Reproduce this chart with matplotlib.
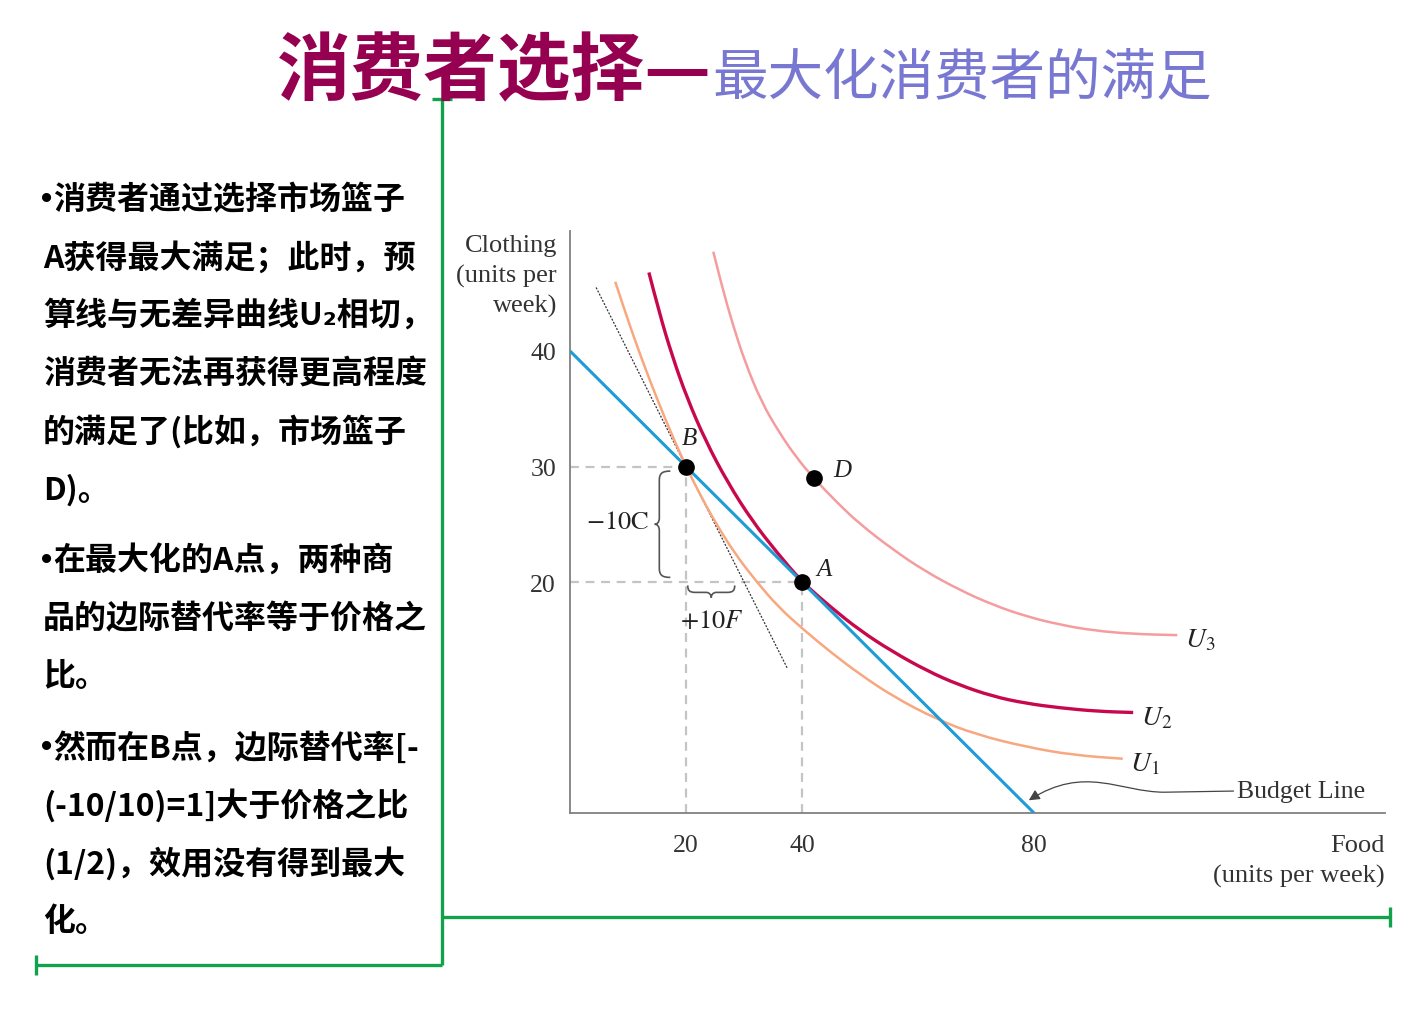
import matplotlib
matplotlib.use("Agg")
import matplotlib.pyplot as plt
from matplotlib.path import Path
from matplotlib.patches import PathPatch, FancyArrowPatch
from matplotlib.lines import Line2D

plt.rcParams['mathtext.fontset'] = 'stix'
CJK = ['Noto Sans CJK SC', 'DejaVu Sans']
SERIF = ['Liberation Serif', 'DejaVu Serif']

# ---------------- data ----------------
title_main = "消费者选择—"
title_sub = "最大化消费者的满足"
notes = [
    ["•消费者通过选择市场篮子", "A获得最大满足；此时，预", "算线与无差异曲线U₂相切，",
     "消费者无法再获得更高程度", "的满足了(比如，市场篮子", "D)。"],
    ["•在最大化的A点，两种商", "品的边际替代率等于价格之", "比。"],
    ["•然而在B点，边际替代率[-", "(-10/10)=1]大于价格之比", "(1/2)，效用没有得到最大", "化。"],
]

food_ticks = [20, 40, 80]
clothing_ticks = [20, 30, 40]
x_label = "Food\n(units per week)"
y_label = "Clothing\n(units per\nweek)"

budget_food = [0, 80]
budget_clothing = [40, 0]

u1_food = [7.8, 9.5, 11.3, 13.2, 15.3, 17.6, 20.0, 22.5, 25.0, 28.5, 32.2, 36.0, 40.2,
           45.0, 50.0, 56.0, 63.3, 70.0, 78.8, 87.0, 95.3]
u1_clothing = [46.0, 43.4, 40.8, 38.2, 35.5, 32.7, 30.0, 27.5, 25.2, 22.4, 20.0, 17.8, 15.9,
               13.9, 12.0, 10.0, 8.1, 6.8, 5.7, 5.0, 4.7]

u2_food = [13.6, 15.4, 17.6, 20.2, 23.4, 27.2, 31.4, 35.6, 40.0, 45.0, 50.0, 55.5, 61.6,
           67.0, 72.9, 78.5, 84.5, 91.0, 97.1]
u2_clothing = [46.8, 43.3, 39.6, 35.9, 32.2, 28.6, 25.3, 22.6, 20.0, 17.8, 15.8, 14.0, 12.3,
               11.1, 10.1, 9.5, 9.1, 8.8, 8.7]

u3_food = [24.7, 26.2, 28.0, 30.2, 33.0, 36.0, 39.0, 42.0, 46.0, 50.0, 55.7, 61.0, 67.2,
           73.0, 78.8, 84.5, 90.2, 97.0, 104.7]
u3_clothing = [48.6, 45.6, 42.4, 39.0, 35.6, 33.0, 30.8, 29.0, 26.9, 25.0, 22.8, 21.0, 19.3,
               18.0, 17.0, 16.3, 15.8, 15.5, 15.4]

curve_names = ["$\\mathit{U}_1$", "$\\mathit{U}_2$", "$\\mathit{U}_3$"]

point_names = ["B", "A", "D"]
point_food = [20, 40, 42]
point_clothing = [30, 20, 29]

tangent_food = [4.5, 37.5]
tangent_clothing = [45.5, 12.5]

delta_c_label = "$-10\\mathrm{C}$"
delta_f_label = "$+10\\mathit{F}$"
budget_label = "Budget Line"

# ---------------- figure ----------------
W, H = 1402, 1012
fig = plt.figure(figsize=(W / 100, H / 100), dpi=100)
fig.patch.set_facecolor('white')


def fx(px):
    return px / W


def fy(py):
    return 1 - py / H


# title
fig.text(fx(712), fy(94), title_main, ha='right', va='baseline', fontsize=53,
         fontweight='heavy', color='#960050', family=CJK)
fig.text(fx(712), fy(94), title_sub, ha='left', va='baseline', fontsize=40,
         fontweight='normal', color='#7878D2', family=CJK)

# left notes
y = 200
for pi, para in enumerate(notes):
    for line in para:
        x0 = 43
        if line.startswith("•"):
            fig.text(fx(41), fy(y), "•", ha='left', va='center', fontsize=23,
                     fontweight='bold', color='black', family=['Liberation Sans', 'DejaVu Sans'])
            line = line[1:]
            x0 = 53
        fig.text(fx(x0), fy(y), line, ha='left', va='center', fontsize=23,
                 fontweight='bold', color='black', family=CJK)
        y += 58
    y += 13

# green frame lines
green = '#12A24C'
glw = 2.4
for xs, ys in [([442, 442], [100, 966]), ([432, 452], [100, 100]),
               ([36, 442], [966, 966]), ([36, 36], [956, 976]),
               ([442, 1390], [918, 918]), ([1390, 1390], [908, 928])]:
    fig.add_artist(Line2D([fx(v) for v in xs], [fy(v) for v in ys], color=green,
                          lw=glw, solid_capstyle='butt'))

# ---------------- chart ----------------
ax = fig.add_axes([fx(570), fy(814), fx(1385) - fx(570), fy(232) - fy(814)])
ax.set_xlim(0, (1385 - 570) / 5.8)
ax.set_ylim(0, (814 - 232) / 11.55)
for s in ['top', 'right']:
    ax.spines[s].set_visible(False)
for s in ['left', 'bottom']:
    ax.spines[s].set_color('#808080')
    ax.spines[s].set_linewidth(1.3)
ax.set_xticks(food_ticks)
ax.set_yticks(clothing_ticks)
ax.tick_params(length=0)
ax.tick_params(axis='x', pad=15)
ax.tick_params(axis='y', pad=10)
for lab in ax.get_xticklabels() + ax.get_yticklabels():
    lab.set_family(SERIF)
    lab.set_fontsize(18.5)
    lab.set_color('#333333')

fig.text(fx(557), fy(235), y_label, ha='right', va='top', fontsize=19,
         family=SERIF, color='#333333', linespacing=1.42, multialignment='right')
fig.text(fx(1385), fy(835), x_label, ha='right', va='top', fontsize=19,
         family=SERIF, color='#333333', linespacing=1.42, multialignment='right')

# dashed guides
guide_kw = dict(color='#C4C4C4', lw=1.6, dashes=(4, 3), zorder=1)
for f, c in zip(point_food[:2], point_clothing[:2]):
    ax.plot([0, f], [c, c], **guide_kw)
    ax.plot([f, f], [0, c], **guide_kw)

# tangent at B
ax.plot(tangent_food, tangent_clothing, color='#333333', lw=0.9, dashes=(1.6, 1.2), zorder=2)


def smooth_curve(xs, ys, **kw):
    pts = list(zip(xs, ys))
    verts = [pts[0]]
    codes = [Path.MOVETO]
    for i in range(1, len(pts) - 1):
        mid = ((pts[i][0] + pts[i + 1][0]) / 2, (pts[i][1] + pts[i + 1][1]) / 2)
        verts += [pts[i], mid]
        codes += [Path.CURVE3, Path.CURVE3]
    verts.append(pts[-1])
    codes.append(Path.LINETO)
    ax.add_patch(PathPatch(Path(verts, codes), fill=False, capstyle='butt', **kw))


# indifference curves
smooth_curve(u1_food, u1_clothing, ec='#F8A77E', lw=1.8, zorder=3)
smooth_curve(u2_food, u2_clothing, ec='#C8084C', lw=2.4, zorder=3)
smooth_curve(u3_food, u3_clothing, ec='#F59C9E', lw=1.8, zorder=3)

# budget line
ax.plot(budget_food, budget_clothing, color='#1E9CD8', lw=2.2, zorder=4, solid_capstyle='butt')

# points
ax.plot(point_food, point_clothing, 'o', color='black', ms=11, zorder=6)
lab_off = {"B": (0.5, 2.5), "A": (3.8, 1.1), "D": (4.9, 0.7)}
for n, f, c in zip(point_names, point_food, point_clothing):
    dx, dy = lab_off[n]
    ax.text(f + dx, c + dy, n, ha='center', va='center', fontsize=18, family=SERIF,
            style='italic', color='#222222', zorder=7)

# curve labels
ends = [(u1_food[-1], u1_clothing[-1]), (u2_food[-1], u2_clothing[-1]),
        (u3_food[-1], u3_clothing[-1])]
for name, (ef, ec) in zip(curve_names, ends):
    ax.text(ef + 1.3, ec - 0.3, name, ha='left', va='center', fontsize=20, color='#222222')


# braces
def cubic_path(segments, start):
    verts = [start]
    codes = [Path.MOVETO]
    for seg in segments:
        if len(seg) == 1:
            verts.append(seg[0]); codes.append(Path.LINETO)
        else:
            verts.extend(seg); codes.extend([Path.CURVE4] * 3)
    return Path(verts, codes)


bf, bc = point_food[0], point_clothing[0]
af, ac = point_food[1], point_clothing[1]
# vertical brace (-10C)
x = bf - 4.6
cd, td, r = 1.9, 0.8, 0.8
y1, y0 = bc - 0.4, ac + 0.4
ym = (y0 + y1) / 2
vpath = cubic_path([
    [(x + cd * 0.3, y1), (x, y1 - r * 0.2), (x, y1 - r)],
    [(x, ym + 0.55)],
    [(x, ym + 0.15), (x - td * 0.5, ym), (x - td, ym)],
    [(x - td * 0.5, ym), (x, ym - 0.15), (x, ym - 0.55)],
    [(x, y0 + r)],
    [(x, y0 + r * 0.2), (x + cd * 0.3, y0), (x + cd, y0)],
], (x + cd, y1))
ax.add_patch(PathPatch(vpath, fill=False, ec='#555555', lw=1.2, zorder=2))
ax.text(x - td - 0.9, ym + 0.3, delta_c_label, ha='right', va='center', fontsize=19,
        color='#222222')

# horizontal brace (+10F)
yb = ac - 0.9
x0, x1 = bf + 0.3, bf + 8.4
xm = (x0 + x1) / 2
cu, tdn, rx = 0.6, 0.45, 1.3
hpath = cubic_path([
    [(x0, yb + cu * 0.3), (x0 + rx * 0.2, yb), (x0 + rx, yb)],
    [(xm - 0.9, yb)],
    [(xm - 0.3, yb), (xm, yb - tdn * 0.5), (xm, yb - tdn)],
    [(xm, yb - tdn * 0.5), (xm + 0.3, yb), (xm + 0.9, yb)],
    [(x1 - rx, yb)],
    [(x1 - rx * 0.2, yb), (x1, yb + cu * 0.3), (x1, yb + cu)],
], (x0, yb + cu))
ax.add_patch(PathPatch(hpath, fill=False, ec='#555555', lw=1.2, zorder=2))
ax.text(bf - 1.0, yb - 2.4, delta_f_label, ha='left', va='center', fontsize=19,
        color='#222222')

# Budget Line label with wavy arrow
lbl_f, lbl_c = 115.0, 1.9
ax.text(lbl_f, lbl_c, budget_label, ha='left', va='center', fontsize=18.5, family=SERIF,
        color='#333333')
tip_f, tip_c = budget_food[1] - 0.9, 1.1
apath = Path([(lbl_f - 0.6, lbl_c), (lbl_f - 12.5, lbl_c - 0.1),
              (lbl_f - 20.2, lbl_c - 0.1), (lbl_f - 26.2, lbl_c + 2.3), (tip_f, tip_c)],
             [Path.MOVETO, Path.LINETO, Path.CURVE4, Path.CURVE4, Path.CURVE4])
arrow = FancyArrowPatch(path=apath, arrowstyle='-|>', mutation_scale=16, color='#444444',
                        lw=0.9, zorder=5)
ax.add_patch(arrow)

fig.savefig("out.png", dpi=100)
